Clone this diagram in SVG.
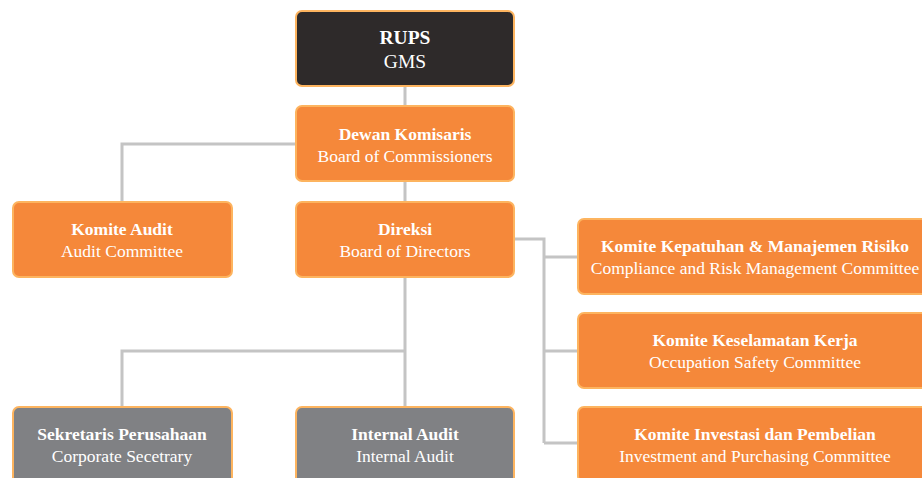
<svg xmlns="http://www.w3.org/2000/svg" width="922" height="478" viewBox="0 0 922 478">
<style>
.box{stroke:#FDB45F;stroke-width:2}
.or{fill:#F5883A}
.dk{fill:#2E2A2A}
.gy{fill:#808184}
.t{font-family:"Liberation Serif",serif;font-size:17.5px;fill:#fff;text-anchor:middle}
.lg{font-size:19.5px}
.b{font-weight:bold}
.c{fill:none;stroke:#C4C4C4;stroke-width:3}
</style>
<rect width="922" height="478" fill="#fff"/>
<g id="connectors">
<path class="c" d="M405 86V105M405 181V201M296 144H122V201M405 277V407M405 351H122V407M514 239H544V443M544 257H577M544 351H577M544 443H577"/>
</g>
<g id="rups"><rect class="box dk" x="296" y="11" width="218" height="75" rx="6"/><text class="t b lg" x="405" y="44">RUPS</text><text class="t lg" x="405" y="68">GMS</text></g>
<g id="dewan"><rect class="box or" x="296" y="106" width="218" height="75" rx="6"/><text class="t b" x="405" y="140">Dewan Komisaris</text><text class="t" x="405" y="162">Board of Commissioners</text></g>
<g id="komite-audit"><rect class="box or" x="13" y="202" width="219" height="75" rx="6"/><text class="t b" x="122" y="235">Komite Audit</text><text class="t" x="122" y="257">Audit Committee</text></g>
<g id="direksi"><rect class="box or" x="296" y="202" width="218" height="75" rx="6"/><text class="t b" x="405" y="235">Direksi</text><text class="t" x="405" y="257">Board of Directors</text></g>
<g id="komite-kepatuhan"><rect class="box or" x="578" y="219" width="360" height="75" rx="6"/><text class="t b" x="755" y="252">Komite Kepatuhan &amp; Manajemen Risiko</text><text class="t" x="755" y="274">Compliance and Risk Management Committee</text></g>
<g id="komite-keselamatan"><rect class="box or" x="578" y="313" width="360" height="75" rx="6"/><text class="t b" x="755" y="346">Komite Keselamatan Kerja</text><text class="t" x="755" y="368">Occupation Safety Committee</text></g>
<g id="komite-investasi"><rect class="box or" x="578" y="407" width="360" height="75" rx="6"/><text class="t b" x="755" y="440">Komite Investasi dan Pembelian</text><text class="t" x="755" y="462">Investment and Purchasing Committee</text></g>
<g id="sekretaris"><rect class="box gy" x="13" y="407" width="219" height="80" rx="6"/><text class="t b" x="122" y="440">Sekretaris Perusahaan</text><text class="t" x="122" y="462">Corporate Secetrary</text></g>
<g id="internal-audit"><rect class="box gy" x="296" y="407" width="218" height="80" rx="6"/><text class="t b" x="405" y="440">Internal Audit</text><text class="t" x="405" y="462">Internal Audit</text></g>
</svg>
